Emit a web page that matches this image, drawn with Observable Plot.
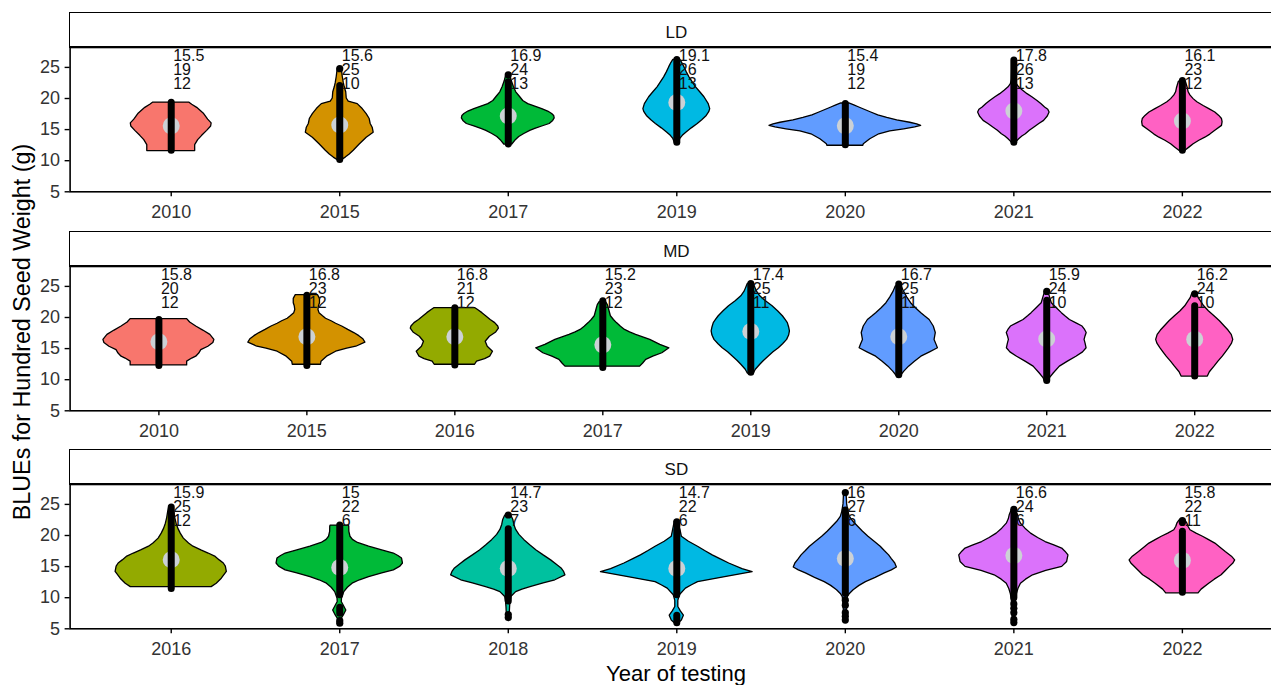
<!DOCTYPE html>
<html>
<head>
<meta charset="utf-8">
<script src="https://cdn.jsdelivr.net/npm/d3@7"></script>
<script src="https://cdn.jsdelivr.net/npm/@observablehq/plot@0.6"></script>
<style>
  html, body { margin: 0; padding: 0; background: #fff; overflow: hidden; }
  #root { position: relative; width: 1271px; height: 685px; overflow: hidden; font-family: "Liberation Sans", Arial, sans-serif; }
  .panel { position: absolute; left: 0; }
  .panel svg { max-width: none !important; }
  .strip { position: absolute; box-sizing: border-box; border: 1.8px solid #000; border-bottom-width: 2.2px; background: #fff;
           font-size: 17px; color: #111; text-align: center; }
  .strip span { position: absolute; left: 0; right: 0; top: 9px; line-height: 22px; }
  .xtitle { position: absolute; font-size: 22px; line-height: 22px; color: #000; white-space: nowrap; transform: translateX(-50%); }
  .ytitle { position: absolute; font-size: 23.3px; line-height: 22px; color: #000; white-space: nowrap; transform: translate(-50%, -50%) rotate(-90deg); }
</style>
</head>
<body>
<div id="root"></div>
<script>
// ---------------- data ----------------
const allYears = [2010, 2015, 2016, 2017, 2018, 2019, 2020, 2021, 2022];
const yearColors = ["#F8766D", "#D39200", "#93AA00", "#00BA38", "#00C19F", "#00B9E3", "#619CFF", "#DB72FB", "#FF61C3"];
const yTicks = [5, 10, 15, 20, 25];

// LD
const ldYears = [2010, 2015, 2017, 2019, 2020, 2021, 2022];
const ldMean = [15.5, 15.6, 16.9, 19.1, 15.4, 17.8, 16.1];
const ldMax = [19, 25, 24, 26, 19, 26, 23];
const ldMin = [12, 10, 13, 13, 12, 13, 12];
const ldCentre = [15.6, 15.75, 17.2, 19.35, 15.6, 18.0, 16.4];
const ldValues = [
  [11.55, 12.5, 13.3, 14.0, 14.8, 15.5, 16.0, 16.6, 17.5, 18.5, 19.0, 19.35],
  [10.1, 10.5, 11.0, 11.6, 12.6, 13.7, 14.5, 15.3, 15.9, 16.7, 17.5, 18.3, 19.1, 19.5, 20.0, 21.0, 21.8, 22.5, 23.5, 24.8],
  [12.6, 13.2, 13.8, 14.3, 14.8, 15.1, 15.5, 15.9, 16.4, 16.8, 17.2, 17.5, 17.9, 18.3, 18.7, 19.1, 19.6, 20.2, 21.0, 21.8, 22.8, 23.8],
  [12.9, 13.5, 14.0, 14.5, 15.2, 15.9, 16.5, 17.2, 17.8, 18.3, 19.1, 20.2, 21.0, 21.8, 22.6, 23.4, 24.2, 25.0, 25.7, 26.2],
  [12.4, 12.65, 13.45, 14.25, 14.7, 15.05, 15.35, 15.6, 15.85, 16.1, 16.5, 16.9, 17.3, 17.75, 18.15, 18.55, 18.9, 19.2],
  [12.9, 13.45, 13.9, 14.25, 14.8, 15.3, 15.9, 16.4, 17.1, 17.75, 18.2, 18.55, 19.1, 19.6, 20.2, 20.7, 21.3, 21.8, 22.3, 23.0, 24.0, 25.0, 26.1],
  [11.6, 12.1, 12.65, 13.2, 13.7, 14.2, 14.8, 15.6, 16.2, 16.7, 17.2, 17.75, 18.3, 18.8, 19.4, 19.9, 20.5, 21.0, 21.6, 22.05, 22.7]
];
const ldDensity = [
  [24, 24, 27, 31, 36, 40, 40.5, 37, 33, 26, 21, 18],
  [2, 6, 10, 14, 20, 27, 34, 33, 31, 30, 27, 23, 18, 9, 7, 6.5, 5, 4, 3, 2],
  [4, 7, 11, 16, 22, 27, 34, 41.5, 45, 46.5, 46, 44, 40, 34, 27, 20, 15, 12, 8, 5.7, 3.5, 2],
  [2, 3.5, 6, 9.5, 15, 21, 25.5, 30, 32.5, 33.5, 32, 27.7, 23.5, 19.3, 16, 12.7, 10, 7.7, 5.5, 3.5],
  [18, 18.5, 25, 34, 45, 59, 70, 76, 72, 65, 52, 42, 33, 26, 20, 14, 9, 4],
  [2, 5.3, 8.5, 12, 16, 20.3, 25.5, 30.3, 34, 35.8, 34.5, 31.3, 27.5, 23.7, 18.5, 13.7, 9, 5.3, 3, 2, 1.8, 1.6, 1.3],
  [3, 7, 11.3, 17, 23, 28, 33, 39.7, 40.3, 39.7, 37, 33, 27, 21.3, 15, 11.3, 8, 6.3, 5.5, 4.7, 3.5]
];
const ldRuns = [[[11.6, 19.3]], [[10.1, 22.0]], [[12.6, 22.6]], [[12.9, 26.2]], [[12.5, 19.1]], [[12.9, 26.1]], [[11.6, 22.8]]];
const ldLoners = [[], [24.8], [23.8], [], [], [], []];

// MD
const mdYears = [2010, 2015, 2016, 2017, 2019, 2020, 2021, 2022];
const mdMean = [15.8, 16.8, 16.8, 15.2, 17.4, 16.7, 15.9, 16.2];
const mdMax = [20, 23, 21, 23, 25, 25, 24, 24];
const mdMin = [12, 12, 12, 12, 11, 11, 10, 10];
const mdCentre = [16.1, 16.9, 16.9, 15.6, 17.75, 16.9, 16.55, 16.5];
const mdValues = [
  [12.3, 12.9, 13.4, 13.7, 14.2, 14.75, 15.3, 15.9, 16.4, 17.2, 17.9, 18.55, 19.2, 19.75],
  [12.4, 12.9, 13.7, 14.5, 15.0, 15.3, 15.95, 16.5, 17.0, 17.5, 18.0, 18.55, 19.0, 19.4, 19.8, 20.2, 20.7, 21.2, 21.8, 22.3, 23.0, 23.6],
  [12.4, 12.9, 13.3, 13.7, 14.5, 15.3, 16.1, 16.9, 17.6, 18.2, 18.55, 19.1, 19.6, 20.2, 20.7, 21.2, 21.5],
  [12.1, 12.6, 13.2, 13.7, 14.25, 15.05, 15.6, 16.0, 16.4, 16.8, 17.2, 17.6, 18.0, 18.5, 19.1, 19.6, 20.2, 20.8, 21.4, 22.0, 22.5],
  [11.0, 11.6, 12.4, 13.0, 13.7, 14.4, 15.05, 15.7, 16.4, 17.1, 17.75, 18.4, 19.1, 19.6, 20.2, 21.0, 21.8, 22.6, 23.4, 24.2, 25.0, 25.4],
  [10.6, 11.3, 12.1, 12.9, 13.7, 14.4, 15.05, 15.6, 16.4, 17.5, 18.55, 19.6, 20.2, 20.7, 21.5, 22.3, 23.2, 24.2, 25.0],
  [9.6, 10.2, 11.0, 12.1, 12.9, 13.7, 14.4, 15.05, 15.8, 16.4, 17.0, 17.5, 18.0, 18.55, 19.1, 19.6, 20.2, 20.7, 21.5, 22.3, 23.4, 24.2],
  [10.5, 11.2, 12.1, 12.9, 13.7, 14.4, 15.05, 15.8, 16.4, 17.2, 17.9, 18.55, 19.4, 20.2, 21.0, 21.8, 22.5, 23.1, 23.8]
];
const mdDensity = [
  [28, 28, 33, 37, 40, 42, 49, 54, 55, 51, 44, 37, 31, 28],
  [14, 14.5, 20, 29, 40, 49, 58, 56, 52, 47, 41, 35, 29, 24.5, 19, 16, 12.5, 11.5, 12, 13, 13, 11],
  [20, 22, 30, 35, 37.8, 32.6, 30.6, 34.7, 41, 43.7, 43, 40, 35.5, 31, 27.3, 23, 20.4],
  [37, 40, 43, 50, 59, 66, 57, 52, 47, 40, 33, 27, 22, 18, 14, 11, 8, 7, 6, 5, 3],
  [3, 5, 9.4, 13, 17.6, 22.5, 27.8, 32, 36, 38, 38.8, 38, 36.7, 34.5, 31.8, 27, 21.6, 15, 9.4, 6, 4, 3],
  [2, 5.5, 10.2, 16, 22.4, 31, 38.8, 37.5, 35.5, 36.7, 34.7, 30.6, 26, 22.4, 17, 12.2, 8.5, 5, 3],
  [1.5, 3, 6.9, 13, 21, 29.4, 36, 39.5, 38.5, 37.5, 38.5, 39.6, 38, 35.5, 29, 23, 18.5, 15, 10, 5, 3, 1.5],
  [13, 15, 19.6, 23.5, 27.8, 31, 33.9, 37, 38.2, 36.7, 33.5, 29.8, 25, 19.6, 14, 9.4, 6.5, 4, 2.5]
];
const mdRuns = [[[12.2, 19.6]], [[12.2, 23.5]], [[12.3, 21.5]], [[11.9, 22.6]], [[11.1, 25.4]], [[10.7, 25.3]], [[9.8, 22.7]], [[10.5, 21.8]]];
const mdLoners = [[], [], [], [], [], [], [24.2], [23.8]];

// SD
const sdYears = [2016, 2017, 2018, 2019, 2020, 2021, 2022];
const sdMean = [15.9, 15, 14.7, 14.7, 16, 16.6, 15.8];
const sdMax = [25, 22, 23, 22, 27, 24, 22];
const sdMin = [12, 6, 7, 6, 6, 6, 11];
const sdCentre = [16.1, 14.85, 14.7, 14.7, 16.3, 16.8, 16.0];
const sdValues = [
  [11.7, 12.25, 13.05, 14.15, 15.0, 15.5, 16.0, 16.55, 17.1, 17.6, 18.2, 18.7, 19.5, 20.3, 21.1, 21.9, 22.8, 23.8, 24.5],
  [5.8, 6.5, 7.15, 7.95, 8.7, 9.3, 9.85, 10.9, 11.6, 12.25, 12.8, 13.3, 13.9, 14.4, 15.0, 15.5, 16.3, 16.7, 17.1, 17.6, 18.2, 18.8, 19.3, 19.8, 20.6, 21.4, 21.6],
  [6.7, 7.5, 8.5, 9.3, 10.1, 10.9, 11.3, 11.7, 12.3, 12.8, 13.6, 14.2, 14.7, 15.3, 16.0, 16.8, 17.6, 18.4, 19.25, 20.1, 20.9, 21.7, 22.5, 23.2],
  [5.9, 6.35, 7.1, 7.8, 8.5, 9.5, 10.4, 11.45, 12.0, 12.5, 13.3, 14.1, 14.6, 15.5, 16.2, 16.8, 17.5, 18.2, 19.0, 19.8, 20.6, 21.4, 22.2],
  [6.1, 7, 8, 9, 10.1, 10.6, 11.2, 11.9, 12.5, 13.2, 13.9, 14.4, 14.85, 15.5, 16.2, 16.8, 17.5, 18.2, 19.0, 19.8, 20.6, 21.4, 22.2, 23.0, 23.8, 25, 26, 27],
  [6.0, 7.0, 8.0, 9.0, 9.6, 10.6, 11.4, 12.25, 12.9, 13.6, 14.3, 14.95, 15.75, 16.8, 17.4, 17.9, 18.4, 18.95, 19.6, 20.3, 21.1, 21.9, 22.6, 23.3, 24.1],
  [10.7, 11.3, 12.25, 12.9, 13.6, 14.3, 14.95, 15.5, 16.0, 16.6, 17.35, 18.0, 18.7, 19.3, 19.8, 20.3, 20.85, 21.4, 21.9, 22.4]
];
const sdDensity = [
  [40, 45, 50, 55, 54, 52, 48, 44, 37, 29.8, 22, 17.6, 12.5, 9.4, 7, 5.3, 4, 3, 2],
  [1, 1.5, 4, 6.5, 4, 2, 2.2, 4.5, 8, 12.7, 20, 29, 42, 53.5, 60, 62.5, 61.6, 58, 53.5, 42, 29, 18, 13, 10.6, 9.5, 9.4, 9],
  [1, 1.5, 1.8, 2.2, 3, 7.8, 14, 22, 35, 46.5, 56.5, 55, 52.7, 48, 42.4, 35, 28, 22, 16, 11, 7.8, 6, 5, 3],
  [2, 5, 7, 4, 1.5, 1.5, 3, 9, 15, 21, 47.8, 75, 65, 51.8, 43, 35.5, 28, 21, 12, 5, 4, 3, 2],
  [1, 1.2, 1.5, 1.8, 2.5, 4.5, 8.2, 14, 20.4, 30, 39, 46, 51, 49.4, 46, 43.3, 39, 35, 29, 22.9, 17.5, 12.7, 8, 4.5, 3, 1.8, 1.5, 1.2],
  [1, 1.2, 1.5, 1.8, 2, 3, 4.5, 7, 12, 19, 32, 47.8, 52.7, 54, 51, 47.8, 40, 31.4, 24, 17, 11.5, 7, 5, 4, 2],
  [16, 19, 26.5, 32, 38.8, 43, 47, 50.5, 52.2, 49, 42.9, 38, 32.6, 26, 20.4, 14, 8, 6, 5, 3]
];
const sdRuns = [[[11.4, 24.5]], [[10.4, 21.6], [7.4, 8.4]], [[9.4, 21.0]], [[10.4, 20.8], [5.9, 7.1]], [[10.6, 24.0]], [[9.9, 23.4]], [[10.8, 20.6]]];
const sdLoners = [[], [6.3, 5.9], [23.3, 7.3, 6.8], [22.2, 21.6], [26.9, 9.6, 8.8, 7.6, 7.0, 6.4], [24.2, 9.0, 8.3, 7.6, 6.5, 6.0], [22.4, 22.1]];

const panelNames = ["LD", "MD", "SD"];

// ---------------- layout ----------------
const W = 1283, ML = 69.6, MT = 35, PH = 144.3, MB = 30;
const plotTops = [46.7, 266, 484.3];

function makePanel(years, mean, max, min, centre, values, density, runs, loners) {
  const n = years.length;
  const cats = years.map((year, k) => ({k, year, mean: mean[k], max: max[k], min: min[k], centre: centre[k]}));
  const vrows = years.flatMap((year, k) => values[k].map((v, j) => ({k, year, v, d: density[k][j]})));
  const dMax = d3.max(vrows, r => r.d);
  const runRows = runs.flatMap((rs, k) => rs.map(([lo, hi]) => ({k, lo, hi})));
  const lonerRows = loners.flatMap((vs, k) => vs.map(v => ({k, v})));
  return Plot.plot({
    width: W, height: MT + PH + MB,
    marginLeft: ML, marginRight: 0, marginTop: MT, marginBottom: MB,
    style: {fontFamily: "'Liberation Sans', Arial, sans-serif", background: "transparent", color: "#222", overflow: "visible", maxWidth: "none"},
    x: {domain: [-0.6, n - 0.4], axis: null},
    y: {domain: [5, 28.2], axis: null},
    color: {type: "ordinal", domain: allYears, range: yearColors},
    marks: [
      Plot.areaX(vrows, {
        y: "v",
        x1: r => r.k - 0.45 * r.d / dMax,
        x2: r => r.k + 0.45 * r.d / dMax,
        z: "k", fill: "year", stroke: "#000", strokeWidth: 1.3, curve: "linear"
      }),
      Plot.dot(cats, {x: "k", y: "centre", r: 8.5, fill: "#ccd1d5", stroke: null}),
      Plot.ruleX(runRows, {x: "k", y1: "lo", y2: "hi", stroke: "#000", strokeWidth: 7, strokeLinecap: "round"}),
      Plot.dot(lonerRows, {x: "k", y: "v", r: 3.6, fill: "#000", stroke: null}),
      Plot.text(cats, {
        x: "k", frameAnchor: "top",
        text: r => `${r.mean}\n${r.max}\n${r.min}`,
        textAnchor: "start", lineAnchor: "top", lineHeight: 0.86,
        dx: 2, dy: 4, fontSize: 16, fill: "#111"
      }),
      Plot.axisY(yTicks, {tickSize: 5, tickPadding: 5, fontSize: 18, label: null, stroke: "#000", strokeWidth: 1.4, fill: "#333"}),
      Plot.axisX(d3.range(n), {tickFormat: i => String(years[i]), tickSize: 5, tickPadding: 8, fontSize: 18, label: null, stroke: "#000", strokeWidth: 1.4, fill: "#333"}),
      Plot.frame({stroke: "#000", strokeWidth: 1.6})
    ]
  });
}

const root = document.getElementById("root");
const specs = [
  [ldYears, ldMean, ldMax, ldMin, ldCentre, ldValues, ldDensity, ldRuns, ldLoners],
  [mdYears, mdMean, mdMax, mdMin, mdCentre, mdValues, mdDensity, mdRuns, mdLoners],
  [sdYears, sdMean, sdMax, sdMin, sdCentre, sdValues, sdDensity, sdRuns, sdLoners]
];
specs.forEach((s, p) => {
  const svg = makePanel(...s);
  svg.style.maxWidth = "none";
  svg.style.width = W + "px";
  const wrap = document.createElement("div");
  wrap.className = "panel";
  wrap.style.top = (plotTops[p] - MT) + "px";
  wrap.appendChild(svg);
  root.appendChild(wrap);
  const strip = document.createElement("div");
  strip.className = "strip";
  strip.style.left = (ML - 0.9) + "px";
  strip.style.top = (plotTops[p] - MT) + "px";
  strip.style.width = (W - ML + 2) + "px";
  strip.style.height = (MT + 1.1) + "px";
  const lab = document.createElement("span");
  lab.textContent = panelNames[p];
  strip.appendChild(lab);
  root.appendChild(strip);
});

const xt = document.createElement("div");
xt.className = "xtitle";
xt.textContent = "Year of testing";
xt.style.left = "676px";
xt.style.top = "663px";
root.appendChild(xt);

const yt = document.createElement("div");
yt.className = "ytitle";
yt.textContent = "BLUEs for Hundred Seed Weight (g)";
yt.style.left = "22px";
yt.style.top = "332px";
root.appendChild(yt);
</script>
</body>
</html>
